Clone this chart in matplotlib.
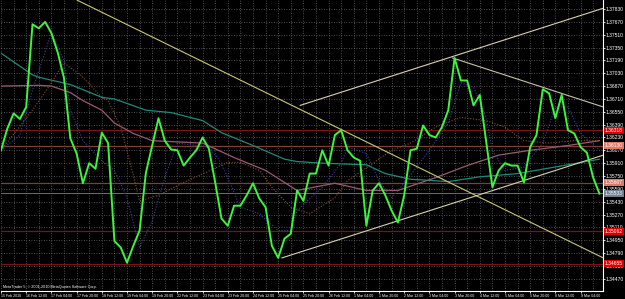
import numpy as np
import matplotlib.pyplot as plt
from matplotlib.transforms import blended_transform_factory

plt.rcParams['font.family'] = ['Liberation Sans', 'DejaVu Sans']

# H4 closes (bar 0 = 15 Feb 2010 20:00)
close = [1.3607, 1.3634, 1.3653, 1.3646, 1.3661, 1.3764, 1.3759, 1.3767, 1.3753, 1.3729,
         1.3697, 1.3622, 1.3603, 1.3566, 1.3591, 1.3584, 1.3629, 1.3616, 1.3494, 1.3486,
         1.3467, 1.3488, 1.3507, 1.3579, 1.3613, 1.3647, 1.3619, 1.3608, 1.3607, 1.3588,
         1.3598, 1.3607, 1.3623, 1.3609, 1.3567, 1.3522, 1.3513, 1.3538, 1.3538, 1.3551,
         1.3566, 1.3547, 1.3536, 1.3488, 1.3473, 1.3497, 1.3503, 1.3557, 1.3544, 1.3578,
         1.3578, 1.3607, 1.3588, 1.3626, 1.3632, 1.3607, 1.3598, 1.3594, 1.3513, 1.3557,
         1.3566, 1.3551, 1.3532, 1.3517, 1.3551, 1.3607, 1.3609, 1.3638, 1.3626, 1.3623,
         1.3636, 1.3657, 1.3722, 1.3694, 1.3694, 1.3663, 1.3676, 1.3619, 1.3561, 1.3582,
         1.3591, 1.3588, 1.3588, 1.3567, 1.3611, 1.3626, 1.3683, 1.3678, 1.3647, 1.3676,
         1.3632, 1.3628, 1.3611, 1.3604, 1.3573, 1.3553]

# moving averages, sampled at some bars
ma_fast_bars = [0, 3, 5, 8, 10, 11, 13, 16, 18, 20, 22, 24, 26, 28, 33, 35, 38, 41, 44, 46, 47,
                51, 54, 55, 58, 60, 62, 64, 68, 71, 73, 75, 77, 78, 80, 83, 86, 88, 90, 92, 95]
ma_fast = [1.3607, 1.3626, 1.3682, 1.3754, 1.3719, 1.3657, 1.3619, 1.3594, 1.3582, 1.3548,
           1.3486, 1.3519, 1.3573, 1.3616, 1.3611, 1.3591, 1.3536, 1.3528, 1.3507, 1.3507,
           1.3532, 1.3561, 1.3591, 1.3611, 1.3603, 1.3569, 1.3548, 1.3566, 1.3607, 1.3641,
           1.3691, 1.3686, 1.3648, 1.3607, 1.3582, 1.3586, 1.3616, 1.3661, 1.3661, 1.3628,
           1.3607]

ma_mid_bars = [0, 5, 8, 10, 13, 16, 17, 19, 21, 22, 25, 29, 36, 38, 41, 43, 46, 49, 53, 55,
               62, 65, 69, 73, 77, 80, 83, 87, 91, 95]
ma_mid = [1.3607, 1.3657, 1.3691, 1.3716, 1.3698, 1.3673, 1.3669, 1.3636, 1.3576, 1.3544,
          1.3551, 1.3567, 1.3592, 1.3592, 1.3582, 1.3561, 1.3536, 1.3528, 1.3548, 1.3569,
          1.3607, 1.3616, 1.3636, 1.3648, 1.3644, 1.3636, 1.3619, 1.3616, 1.3619, 1.3619]

ma_slow_bars = [0, 6, 8, 11, 13, 16, 18, 21, 24, 32, 37, 42, 47, 53, 58, 63, 69, 74, 79, 84, 90, 95]
ma_slow = [1.3687, 1.3688, 1.3687, 1.3679, 1.3669, 1.3657, 1.3641, 1.3628, 1.3619, 1.3616,
           1.3598, 1.3582, 1.3557, 1.3566, 1.3557, 1.3557, 1.3573, 1.3588, 1.3601, 1.3607,
           1.3613, 1.3619]

ma_long_bars = [0, 5, 6, 11, 16, 18, 23, 27, 32, 35, 40, 45, 47, 51, 58, 61, 65, 71, 76, 82, 90, 95]
ma_long = [1.3728, 1.3701, 1.3698, 1.3689, 1.3673, 1.3671, 1.3657, 1.3654, 1.3644, 1.3629,
           1.3613, 1.3596, 1.3593, 1.3591, 1.3589, 1.3578, 1.3571, 1.3568, 1.3574, 1.3578,
           1.3589, 1.3596]

# trend lines: (bar, price) pairs
trend_down = [(12.1, 1.3794), (95.6, 1.3473)]
chan_upper = [(47.5, 1.3663), (95.6, 1.3784)]
chan_lower = [(44.6, 1.3473), (95.6, 1.3601)]
peak_line = [(71.7, 1.3722), (95.6, 1.3661)]

# horizontal levels
levels = [1.36318, 1.36130, 1.35667, 1.35062, 1.34655]
level_kind = ['red', 'salmon', 'salmon', 'red', 'red']
bid = 1.35533

price_ticks = [1.34470, 1.34630, 1.34790, 1.34950, 1.35110, 1.35270, 1.35430, 1.35590,
               1.35750, 1.35910, 1.36070, 1.36230, 1.36390, 1.36550, 1.36710, 1.36870,
               1.37030, 1.37190, 1.37350, 1.37510, 1.37670, 1.37830]

date_labels = ['15 Feb 2010', '16 Feb 12:00', '17 Feb 04:00', '17 Feb 20:00', '18 Feb 12:00',
               '19 Feb 04:00', '19 Feb 20:00', '22 Feb 12:00', '23 Feb 04:00', '23 Feb 20:00',
               '24 Feb 12:00', '25 Feb 04:00', '25 Feb 20:00', '26 Feb 12:00', '1 Mar 04:00',
               '1 Mar 20:00', '2 Mar 12:00', '3 Mar 04:00', '3 Mar 20:00', '4 Mar 12:00',
               '5 Mar 04:00', '5 Mar 20:00', '8 Mar 12:00', '9 Mar 04:00']
date_bars = list(range(0, 96, 4))

fig = plt.figure(figsize=(6.25, 2.99), dpi=100, facecolor='black')
ax = fig.add_axes([1/625, 8/299, 602/625, 291/299], facecolor='black')

bars = np.arange(len(close))
ax.set_xlim(0, 95.56)
ax.set_ylim(1.343175, 1.379425)

# grid
for p in price_ticks:
    ax.axhline(p, color='#6a6a6a', lw=0.6, ls=(0, (1, 2)), zorder=0)
for b in range(0, 96, 2):
    ax.axvline(b, color='#6a6a6a', lw=0.6, ls=(0, (1, 2)), zorder=0)

# levels
for p, k in zip(levels, level_kind):
    ax.axhline(p, color='#7a1414' if k == 'red' else '#7e4034', lw=0.9, zorder=1)
ax.axhline(bid, color='#607080', lw=0.7, zorder=1)

# moving averages
ax.plot(ma_long_bars, ma_long, color='#1f8a7a', lw=0.9, zorder=2)
ax.plot(ma_slow_bars, ma_slow, color='#9a5a74', lw=0.9, zorder=2)
ax.plot(ma_mid_bars, ma_mid, color='#8a5030', lw=0.8, ls=(0, (1, 1.5)), zorder=2)
ax.plot(ma_fast_bars, ma_fast, color='#4040a8', lw=0.8, ls=(0, (1, 1.5)), zorder=2)

# trend lines
for ln, c in [(trend_down, '#c8c870'), (chan_upper, '#d8d0b0'),
              (chan_lower, '#d8d0b0'), (peak_line, '#c8c0a8')]:
    xs, ys = zip(*ln)
    ax.plot(xs, ys, color=c, lw=0.8, zorder=3)

ax.plot(bars, close, color='#3cf53c', lw=1.4, zorder=4)

for s in ['top', 'left']:
    ax.spines[s].set_visible(False)
for s in ['right', 'bottom']:
    ax.spines[s].set_color('white')
    ax.spines[s].set_linewidth(0.8)

ax.yaxis.tick_right()
ax.set_yticks(price_ticks)
ax.set_yticklabels(['%.5f' % p for p in price_ticks])
ax.set_xticks(date_bars)
ax.set_xticklabels(date_labels, ha='left')
ax.tick_params(axis='y', colors='white', labelsize=3.6, length=1.5, pad=0.6, width=0.6)
ax.tick_params(axis='x', colors='white', labelsize=2.6, length=1.5, pad=0.8, width=0.6)

# price boxes on the axis
tr = blended_transform_factory(ax.transAxes, ax.transData)
for p, k in zip(levels, level_kind):
    ax.text(1.0035, p, '%.5f' % p, transform=tr, fontsize=3.6, color='white',
            va='center', ha='left', zorder=6, clip_on=False,
            bbox=dict(boxstyle='square,pad=0.2', fc='#e00000' if k == 'red' else '#e07868',
                      ec='none'))
ax.text(1.0035, bid, '%.5f' % bid, transform=tr, fontsize=3.6, color='white',
        va='center', ha='left', zorder=6, clip_on=False,
        bbox=dict(boxstyle='square,pad=0.2', fc='#708090', ec='none'))

fig.text(3/625, 1 - 289/299, 'MetaTrader 5, © 2001-2010 MetaQuotes Software Corp.',
         fontsize=2.7, color='white', va='bottom', ha='left')

fig.savefig('out.png', dpi=100, facecolor='black')
